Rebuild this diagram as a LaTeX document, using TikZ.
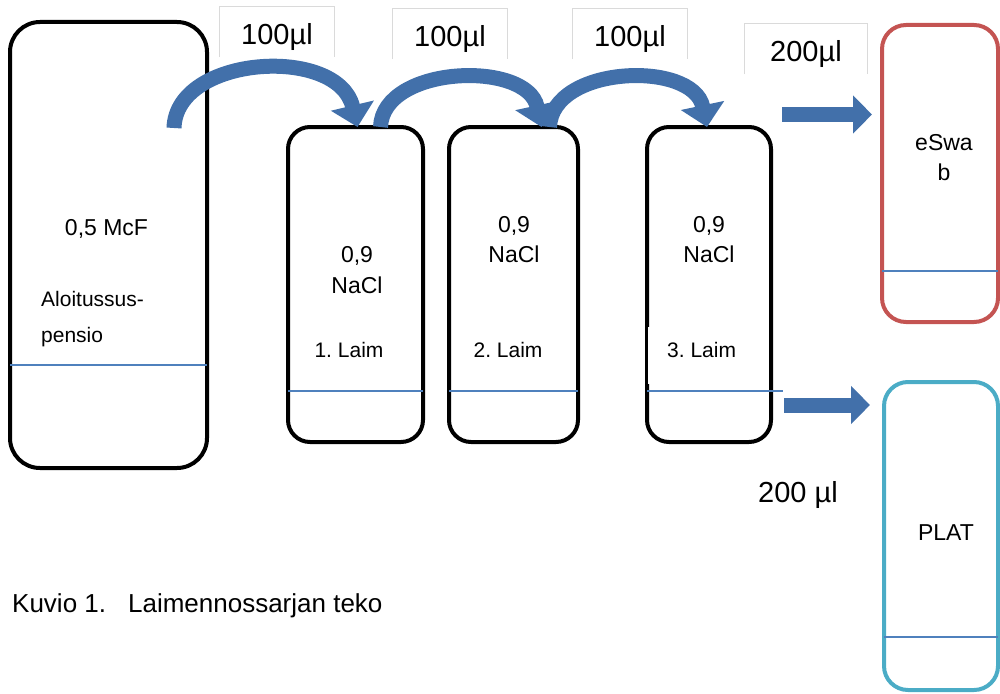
\documentclass[tikz,border=0pt]{standalone}
\usepackage{fontspec}
\setmainfont{Liberation Sans}
\usetikzlibrary{arrows.meta}
\definecolor{flowblue}{RGB}{66,112,170}
\definecolor{levelblue}{RGB}{79,129,189}
\definecolor{swabred}{RGB}{196,84,82}
\definecolor{platcyan}{RGB}{75,172,198}
\definecolor{framegray}{RGB}{218,218,218}
\tikzstyle{tube}=[draw=black, line width=4pt, inner sep=0pt, outer sep=0pt]
\tikzstyle{swab tube}=[tube, draw=swabred, minimum width=116pt, minimum height=297pt, rounded corners=24pt]
\tikzstyle{plat tube}=[tube, draw=platcyan, minimum width=114pt, minimum height=308pt, rounded corners=24pt]
\tikzstyle{level}=[draw=levelblue, line width=2pt]
\tikzstyle{transfer}=[draw=flowblue, line width=15pt, -{Triangle[width=43pt,length=22pt]}]
\tikzstyle{feed}=[draw=flowblue, line width=15pt, -{Triangle[width=37pt,length=19pt]}]
\tikzstyle{volume}=[font=\fontsize{29}{34}\selectfont, inner sep=0pt, minimum height=50pt, text height=26pt, text depth=0pt]
\tikzstyle{frame}=[draw=framegray, line width=1pt]
\tikzstyle{note}=[inner sep=0pt, anchor=base]
\frenchspacing
\begin{document}
\begin{tikzpicture}[x=1pt, y=-1pt]
	\useasboundingbox (0,0) rectangle (1000,693);
	% Tubes of the dilution series
	\foreach \pos/\label/\w/\h/\r in {
		{(108.5,245)/t0/197pt/446pt/30pt},
		{(355.5,284.5)/t1/135pt/315pt/22pt},
		{(513.5,284.5)/t2/129pt/315pt/22pt},
		{(709,284.5)/t3/124pt/315pt/22pt}}
	\node[tube, minimum width=\w, minimum height=\h, rounded corners=\r] (\label) at \pos {};
	\node[swab tube] (swab) at (940,173.5) {};
	\node[plat tube] (plat) at (941,536) {};
	
	% Liquid levels
	\foreach \tube/\y in {t0/365, t1/391, t2/391}
	\draw[level] (\tube.west |- 0,\y) -- (\tube.east |- 0,\y);
	\draw[level] (t3.west |- 0,391) -- (783,391);
	\draw[level] (swab.west |- 0,271) -- (swab.east |- 0,271);
	\draw[level] (plat.west |- 0,637) -- (plat.east |- 0,637);
	
	% Texts in the tubes
	\foreach \pos/\label/\name in {
		{(106.5,235)/mcf/0,5 McF},
		{(357,262)/c1/0,9}, {(357,293)/n1/NaCl}, {(514,232)/c2/0,9}, {(514,262)/n2/NaCl},
		{(709,232)/c3/0,9}, {(709,262)/n3/NaCl}}
	\node[note, font=\fontsize{23}{28}\selectfont] (\label) at \pos {\name};
	\foreach \pos/\label/\name in {
		{(41,306)/alo/Aloitussus-},
		{(41,342)/pen/pensio}}
	\node[note, anchor=base west, font=\fontsize{21}{25}\selectfont] (\label) at \pos {\name};
	\foreach \pos/\label/\name in {
		{(349,357)/l1/1. Laim},
		{(508,357)/l2/2. Laim}}
	\node[note, font=\fontsize{21}{25}\selectfont] (\label) at \pos {\name};
	\node[fill=white, anchor=west, inner xsep=19pt, inner ysep=0pt, minimum height=57pt,
		text height=15pt, text depth=12pt, font=\fontsize{21}{25}\selectfont] (l3) at (648,355.5) {3. Laim};
	\foreach \pos/\label/\name in {
		{(944,150)/sw1/eSwa}, {(944,180)/sw2/b}, {(946,540)/pl/PLAT}}
	\node[note, font=\fontsize{23}{28}\selectfont] (\label) at \pos {\name};
	
	% Transferred volumes
	\foreach \pos/\label/\w/\name in {
		{(277,32)/v1/114pt/100µl},
		{(450,34)/v2/115pt/100µl},
		{(630,34)/v3/115pt/100µl},
		{(806,49)/v4/122pt/200µl}}
	\node[volume, minimum width=\w] (\label) at \pos {\name};
	\foreach \label in {v1,v2,v3,v4}
	\draw[frame] (\label.south west) -- (\label.north west) -- (\label.north east) -- (\label.south east);
	\node[note, font=\fontsize{29}{34}\selectfont] (v5) at (798,502) {200 µl};
	
	% Transfers between the tubes
	\coordinate (a0) at (174,128);
	\draw[transfer] (a0) .. controls (176,55) and (338,45) .. ([xshift=2pt]t1.north);
	\draw[transfer] ([xshift=25pt]t1.north) .. controls (383,65) and (527,60) .. ([xshift=28pt]t2.north);
	\draw[transfer] ([xshift=36pt]t2.north) .. controls (552,65) and (693,60) .. ([xshift=-2pt]t3.north);
	\coordinate (f1) at (782,114.5);
	\coordinate (f2) at (784,405);
	\draw[feed, shorten >=10pt] (f1) -- (f1 -| swab.west);
	\draw[feed, shorten >=14pt] (f2) -- (f2 -| plat.west);
	
	% Caption
	\node[note, anchor=base west, font=\fontsize{26}{31}\selectfont] (cap) at (12,612) {Kuvio 1.\hspace{22pt}Laimennossarjan teko};
\end{tikzpicture}
\end{document}
